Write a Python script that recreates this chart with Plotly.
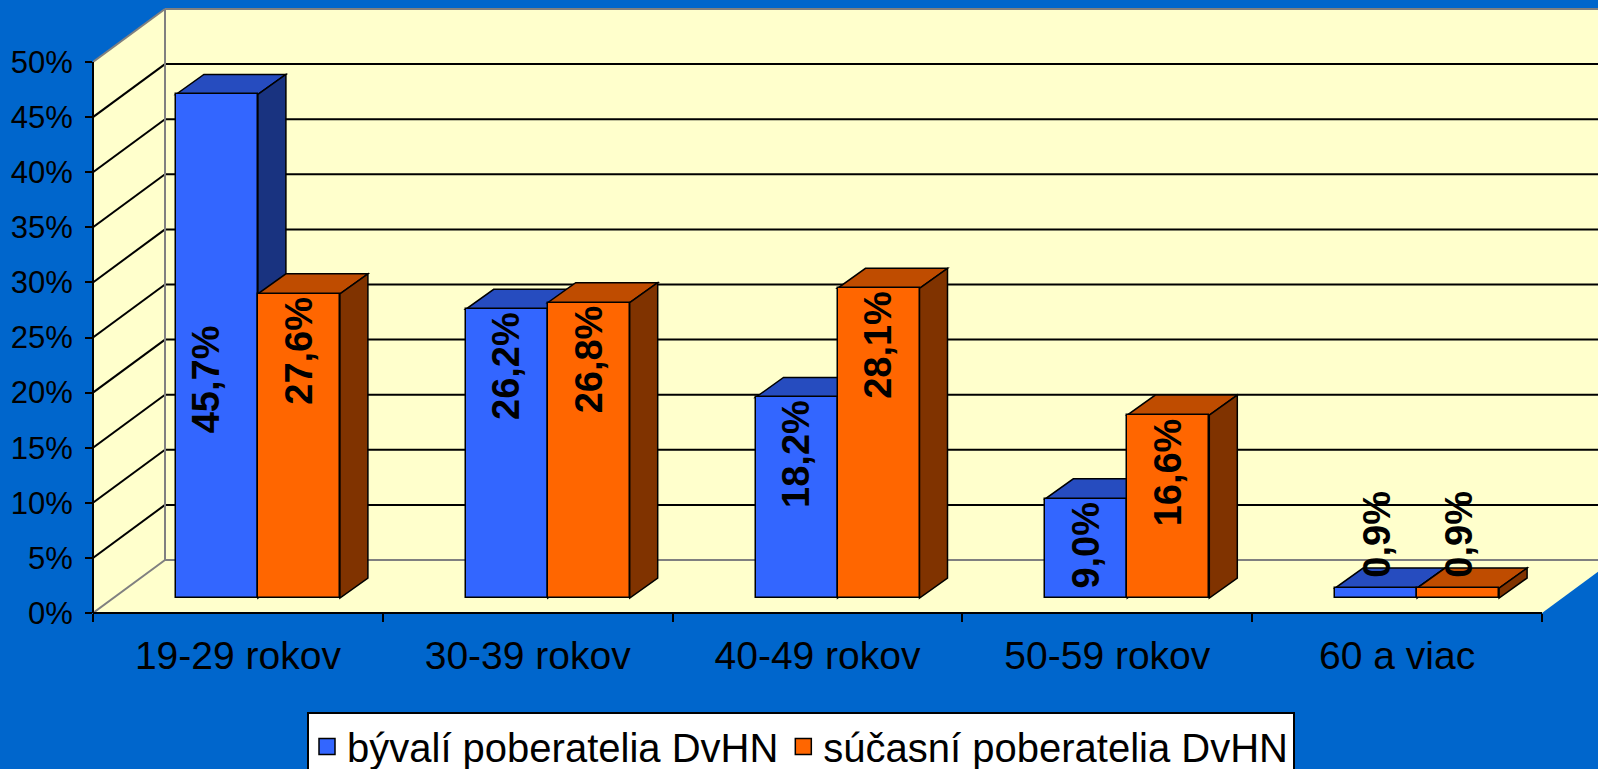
import plotly.graph_objects as go

# ---------------- data ----------------
categories = ["19-29 rokov", "30-39 rokov", "40-49 rokov", "50-59 rokov", "60 a viac"]
series_names = ["bývalí poberatelia DvHN", "súčasní poberatelia DvHN"]
former_values = [45.7, 26.2, 18.2, 9.0, 0.9]
current_values = [27.6, 26.8, 28.1, 16.6, 0.9]
y_tick_values = [0, 5, 10, 15, 20, 25, 30, 35, 40, 45, 50]
y_tick_labels = [f"{v}%" for v in y_tick_values]

# ---------------- style / geometry ----------------
W, H = 1598, 769
M_L, M_R, M_T, M_B = 93, 0, 5, 156
PLOT_W = W - M_L - M_R
PLOT_H = H - M_T - M_B
PX_PER_CAT = 289.8
PX_PER_PCT = 11.02

BG = "#0066CC"
WALL = "#FFFFCC"
EDGE_GRAY = "#808080"
FRONT = ["#3366FF", "#FF6600"]
TOP = ["#264CBF", "#BF4C00"]
SIDE = ["#193380", "#803300"]


def cx(px):
    return px / PX_PER_CAT


def cy(px):
    return px / PX_PER_PCT


x_range = [-0.5, -0.5 + PLOT_W / PX_PER_CAT]
y_range = [0, PLOT_H / PX_PER_PCT]
x_left, x_right = -0.5, len(categories) - 0.5

WALL_DX, WALL_DY = cx(72), cy(53)
BAR_PLANE_DX, BAR_PLANE_DY = cx(20), cy(15)
BAR_W = cx(82)
BAR_DEPTH_DX, BAR_DEPTH_DY = cx(28), cy(20)
offsets = [BAR_PLANE_DX - BAR_W, BAR_PLANE_DX]
ymax = max(y_tick_values)

shapes = []


def line(x0, y0, x1, y1, color, width=2, xref="x", yref="y", layer="below"):
    shapes.append(dict(type="line", x0=x0, y0=y0, x1=x1, y1=y1, xref=xref, yref=yref,
                       line=dict(color=color, width=width), layer=layer))


def poly(pts, fill, lw=0, lc="black"):
    d = "M " + " L ".join(f"{x},{y}" for x, y in pts) + " Z"
    shapes.append(dict(type="path", path=d, xref="x", yref="y", fillcolor=fill,
                       line=dict(color=lc, width=lw), layer="below"))


bx0 = x_left + WALL_DX
bx1 = x_range[1] + 1
# back wall
poly([(bx0, WALL_DY), (bx1, WALL_DY), (bx1, ymax + WALL_DY), (bx0, ymax + WALL_DY)], WALL)
# side wall
poly([(x_left, 0), (x_left, ymax), (bx0, ymax + WALL_DY), (bx0, WALL_DY)], WALL)
# floor
poly([(x_left, 0), (x_right, 0), (x_right + WALL_DX, WALL_DY), (bx0, WALL_DY)], WALL)

# gridlines
for t in y_tick_values:
    col = EDGE_GRAY if t in (0, ymax) else "black"
    line(x_left, t, bx0, t + WALL_DY, col)
    line(bx0, t + WALL_DY, bx1, t + WALL_DY, col)
line(bx0, WALL_DY, bx0, ymax + WALL_DY, EDGE_GRAY)

# 3D faces of bars
all_values = [former_values, current_values]
for c in range(len(categories)):
    for s in range(2):
        v = all_values[s][c]
        xl = c + offsets[s]
        xr = xl + BAR_W
        b = BAR_PLANE_DY
        t = b + v
        poly([(xl, t), (xr, t), (xr + BAR_DEPTH_DX, t + BAR_DEPTH_DY), (xl + BAR_DEPTH_DX, t + BAR_DEPTH_DY)],
             TOP[s], 1.5)
        poly([(xr, b), (xr, t), (xr + BAR_DEPTH_DX, t + BAR_DEPTH_DY), (xr + BAR_DEPTH_DX, b + BAR_DEPTH_DY)],
             SIDE[s], 1.5)

# front edges (axis lines)
line(0, 0, 0, ymax, "black", 2, xref="paper", yref="y", layer="above")
line(x_left, 0, x_right, 0, "black", 2, xref="x", yref="paper", layer="above")

fig = go.Figure()
for s in range(2):
    fig.add_trace(go.Bar(
        x=list(range(len(categories))), y=all_values[s], base=BAR_PLANE_DY,
        width=BAR_W, offset=offsets[s], marker=dict(color=FRONT[s], line=dict(color="black", width=1.5)),
        name=series_names[s], showlegend=False, legendgroup=str(s), hoverinfo="skip"))
    fig.add_trace(go.Scatter(
        x=[None], y=[None], mode="markers", name=series_names[s], legendgroup=str(s),
        marker=dict(symbol="square", size=16, color=FRONT[s], line=dict(color="black", width=1.5))))

# value labels
LABEL_NUDGE_PX = {(0, 0): (-11, -228)}
annotations = []
for c in range(len(categories)):
    for s in range(2):
        v = all_values[s][c]
        top = BAR_PLANE_DY + v
        txt = f"{v:.1f}".replace(".", ",") + "%"
        inside = v * PX_PER_PCT > 90
        dx, dy = LABEL_NUDGE_PX.get((s, c), (0, 0))
        annotations.append(dict(
            x=c + offsets[s] + BAR_W / 2, y=top, xref="x", yref="y", text=txt, showarrow=False,
            textangle=-90, xanchor="center", yanchor="top" if inside else "bottom",
            xshift=dx, yshift=(-1 if inside else 8) + dy,
            font=dict(family="Liberation Sans, Arial", size=38, color="black", weight="bold")))

fig.update_layout(
    width=W, height=H, margin=dict(l=M_L, r=M_R, t=M_T, b=M_B, autoexpand=False),
    paper_bgcolor=BG, plot_bgcolor=BG,
    font=dict(family="Liberation Sans, Arial", color="black"),
    barmode="overlay", bargap=0,
    shapes=shapes, annotations=annotations,
    xaxis=dict(range=x_range, tickvals=list(range(len(categories))), ticktext=categories,
               showgrid=False, zeroline=False, showline=False, ticks="",
               tickfont=dict(size=39), ticklabelstandoff=16,
               minor=dict(tickvals=[i - 0.5 for i in range(len(categories) + 1)], ticks="outside",
                          ticklen=8, tickwidth=2, tickcolor="black", showgrid=False)),
    yaxis=dict(range=y_range, tickvals=y_tick_values, ticktext=y_tick_labels, showgrid=False,
               zeroline=False, showline=False, ticks="outside", ticklen=7, tickwidth=2,
               tickcolor="black", tickfont=dict(size=31), ticklabelstandoff=6),
    legend=dict(orientation="h", x=(307 - M_L) / PLOT_W, y=-(712 - (H - M_B)) / PLOT_H,
                xanchor="left", yanchor="top", bgcolor="white", bordercolor="black", borderwidth=2,
                font=dict(size=40), itemwidth=30, tracegroupgap=0),
    showlegend=True,
)

fig.write_html("out.html", config={"displayModeBar": False},
               post_script="document.body.style.margin='0';document.body.style.padding='0';")
